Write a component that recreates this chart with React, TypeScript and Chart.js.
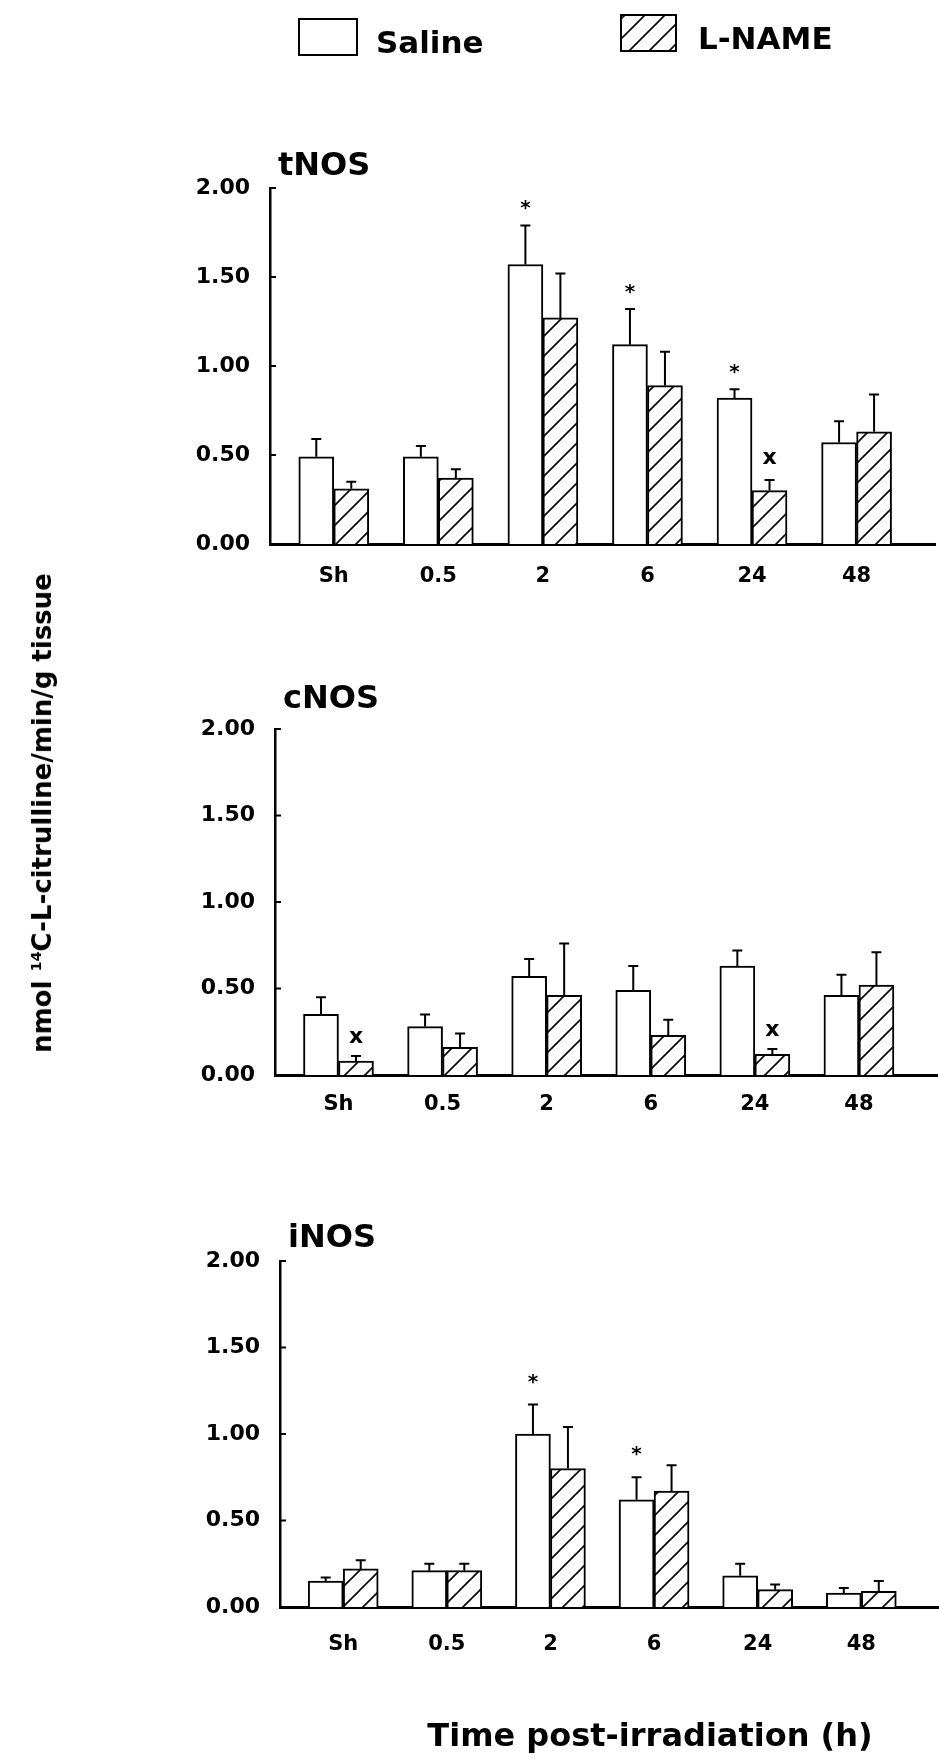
import React, { useEffect, useRef } from 'react';
import { Chart, registerables } from 'chart.js';

Chart.register(...registerables);

// ---------- data ----------
const timeLabels = ['Sh', '0.5', '2', '6', '24', '48'];
const seriesNames = ['Saline', 'L-NAME'];
const yTickStep = 0.5;
const yMax = 2;

const tNOSSaline = [0.49, 0.49, 1.57, 1.12, 0.82, 0.57];
const tNOSSalineErr = [0.1, 0.06, 0.22, 0.2, 0.05, 0.12];
const tNOSLname = [0.31, 0.37, 1.27, 0.89, 0.3, 0.63];
const tNOSLnameErr = [0.04, 0.05, 0.25, 0.19, 0.06, 0.21];
const tNOSSalineMarks = ['', '', '*', '*', '*', ''];
const tNOSLnameMarks = ['', '', '', '', 'x', ''];

const cNOSSaline = [0.35, 0.28, 0.57, 0.49, 0.63, 0.46];
const cNOSSalineErr = [0.1, 0.07, 0.1, 0.14, 0.09, 0.12];
const cNOSLname = [0.08, 0.16, 0.46, 0.23, 0.12, 0.52];
const cNOSLnameErr = [0.03, 0.08, 0.3, 0.09, 0.03, 0.19];
const cNOSSalineMarks = ['', '', '', '', '', ''];
const cNOSLnameMarks = ['x', '', '', '', 'x', ''];

const iNOSSaline = [0.15, 0.21, 1.0, 0.62, 0.18, 0.08];
const iNOSSalineErr = [0.02, 0.04, 0.17, 0.13, 0.07, 0.03];
const iNOSLname = [0.22, 0.21, 0.8, 0.67, 0.1, 0.09];
const iNOSLnameErr = [0.05, 0.04, 0.24, 0.15, 0.03, 0.06];
const iNOSSalineMarks = ['', '', '*', '*', '', ''];
const iNOSLnameMarks = ['', '', '', '', '', ''];

const FONT = '"DejaVu Sans", "Liberation Sans", sans-serif';

function makeHatch(ctx: CanvasRenderingContext2D): CanvasPattern | string {
  const s = 20;
  const c = document.createElement('canvas');
  c.width = s;
  c.height = s;
  const g = c.getContext('2d')!;
  g.fillStyle = '#fff';
  g.fillRect(0, 0, s, s);
  g.strokeStyle = '#000';
  g.lineWidth = 1.6;
  g.beginPath();
  g.moveTo(0, s);
  g.lineTo(s, 0);
  g.moveTo(-3, 3);
  g.lineTo(3, -3);
  g.moveTo(s - 3, s + 3);
  g.lineTo(s + 3, s - 3);
  g.stroke();
  return ctx.createPattern(c, 'repeat') || '#fff';
}

const decorPlugin = {
  id: 'panelDecor',
  afterDatasetsDraw(chart: any, _args: any, opts: any) {
    const { ctx, chartArea } = chart;
    const y = chart.scales.y;
    ctx.save();
    ctx.strokeStyle = '#000';
    ctx.fillStyle = '#000';
    // small inward tick marks on the value axis
    ctx.lineWidth = 2;
    y.ticks.forEach((t: any) => {
      const py = y.getPixelForValue(t.value);
      ctx.beginPath();
      ctx.moveTo(chartArea.left, py);
      ctx.lineTo(chartArea.left + 6, py);
      ctx.stroke();
    });
    chart.data.datasets.forEach((ds: any, di: number) => {
      const meta = chart.getDatasetMeta(di);
      meta.data.forEach((bar: any, i: number) => {
        const v = ds.data[i].y;
        const e = ds.errors[i];
        const yTop = y.getPixelForValue(v);
        const yErr = y.getPixelForValue(v + e);
        const x = bar.x;
        ctx.lineWidth = 2;
        ctx.beginPath();
        ctx.moveTo(x, yTop);
        ctx.lineTo(x, yErr);
        ctx.moveTo(x - 5, yErr);
        ctx.lineTo(x + 5, yErr);
        ctx.stroke();
        const m = ds.marks[i];
        if (m) {
          const target = yErr - opts.markGap;
          ctx.textAlign = 'center';
          ctx.textBaseline = 'alphabetic';
          if (m === '*') {
            ctx.font = `bold 20px ${FONT}`;
            ctx.fillText(m, x, target + 11);
          } else {
            ctx.font = `bold 22px ${FONT}`;
            ctx.fillText(m, x, target + 6);
          }
        }
      });
    });
    // panel title
    ctx.font = `bold 32px ${FONT}`;
    ctx.textAlign = 'left';
    ctx.textBaseline = 'alphabetic';
    ctx.fillText(opts.title, chartArea.left + 8, chartArea.top - opts.titleOffset);

    if (opts.legend) {
      const ds = chart.data.datasets;
      ctx.lineWidth = 2;
      ctx.font = `bold 31px ${FONT}`;
      // Saline
      ctx.fillStyle = ds[0].backgroundColor;
      ctx.fillRect(299, 19, 58, 36);
      ctx.strokeRect(299, 19, 58, 36);
      ctx.fillStyle = '#000';
      ctx.fillText(ds[0].label, 376, 53);
      // L-NAME
      ctx.fillStyle = ds[1].backgroundColor;
      ctx.fillRect(621, 15, 55, 36);
      ctx.strokeRect(621, 15, 55, 36);
      ctx.fillStyle = '#000';
      ctx.fillText(ds[1].label, 698, 49);
    }
    ctx.restore();
  },
};

type PanelProps = {
  title: string;
  saline: number[];
  salineErr: number[];
  salineMarks: string[];
  lname: number[];
  lnameErr: number[];
  lnameMarks: string[];
  top: number;
  height: number;
  padTop: number;
  xHeight: number;
  yWidth: number;
  padRight: number;
  xTickPad: number;
  titleOffset: number;
  markGap: number;
  legend?: boolean;
};

function Panel(p: PanelProps) {
  const ref = useRef<HTMLCanvasElement | null>(null);
  useEffect(() => {
    const canvas = ref.current!;
    const ctx = canvas.getContext('2d')!;
    const hatch = makeHatch(ctx);
    const chart = new Chart(ctx, {
      type: 'bar',
      data: {
        datasets: [
          {
            label: seriesNames[0],
            data: p.saline.map((v, i) => ({ x: i, y: v })),
            backgroundColor: '#ffffff',
            borderColor: '#000000',
            borderWidth: 2,
            barThickness: 35,
            errors: p.salineErr,
            marks: p.salineMarks,
          } as any,
          {
            label: seriesNames[1],
            data: p.lname.map((v, i) => ({ x: i, y: v })),
            backgroundColor: hatch,
            borderColor: '#000000',
            borderWidth: 2,
            barThickness: 35,
            errors: p.lnameErr,
            marks: p.lnameMarks,
          } as any,
        ],
      },
      options: {
        responsive: false,
        animation: false,
        devicePixelRatio: 1,
        layout: { padding: { top: p.padTop, right: p.padRight, bottom: 0, left: 0 } },
        plugins: {
          legend: { display: false },
          tooltip: { enabled: false },
          panelDecor: {
            title: p.title,
            legend: !!p.legend,
            titleOffset: p.titleOffset,
            markGap: p.markGap,
          },
        } as any,
        scales: {
          x: {
            type: 'linear',
            min: -0.61,
            max: 5.75,
            offset: false,
            grid: { display: false },
            border: { display: true, color: '#000', width: 3 },
            afterBuildTicks: (s: any) => {
              s.ticks = timeLabels.map((_, i) => ({ value: i }));
            },
            afterFit: (s: any) => {
              s.height = p.xHeight;
            },
            ticks: {
              autoSkip: false,
              maxRotation: 0,
              padding: p.xTickPad,
              color: '#000',
              font: { family: FONT, size: 21, weight: 'bold' },
              callback: (_v: any, i: number) => timeLabels[i],
            },
          },
          y: {
            type: 'linear',
            min: 0,
            max: yMax,
            grid: { display: false },
            border: { display: true, color: '#000', width: 2.5 },
            afterFit: (s: any) => {
              s.width = p.yWidth;
            },
            ticks: {
              stepSize: yTickStep,
              padding: 12,
              color: '#000',
              font: { family: FONT, size: 22, weight: 'bold' },
              callback: (v: any) => Number(v).toFixed(2),
            },
          },
        } as any,
      },
      plugins: [decorPlugin],
    });
    return () => chart.destroy();
  }, []);
  return (
    <canvas
      ref={ref}
      width={939}
      height={p.height}
      style={{ position: 'absolute', left: 0, top: p.top, width: 939, height: p.height }}
    />
  );
}

export default function App() {
  return (
    <div
      style={{
        position: 'absolute',
        left: 0,
        top: 0,
        width: 939,
        height: 1763,
        background: '#fff',
        overflow: 'hidden',
        fontFamily: FONT,
      }}
    >
      <Panel
        title="tNOS"
        saline={tNOSSaline}
        salineErr={tNOSSalineErr}
        salineMarks={tNOSSalineMarks}
        lname={tNOSLname}
        lnameErr={tNOSLnameErr}
        lnameMarks={tNOSLnameMarks}
        top={0}
        height={600}
        padTop={188}
        xHeight={56}
        yWidth={270}
        padRight={4}
        xTickPad={12}
        titleOffset={13}
        markGap={22}
        legend
      />
      <Panel
        title="cNOS"
        saline={cNOSSaline}
        salineErr={cNOSSalineErr}
        salineMarks={cNOSSalineMarks}
        lname={cNOSLname}
        lnameErr={cNOSLnameErr}
        lnameMarks={cNOSLnameMarks}
        top={600}
        height={530}
        padTop={129}
        xHeight={55}
        yWidth={275}
        padRight={2}
        xTickPad={9}
        titleOffset={21}
        markGap={19}
      />
      <Panel
        title="iNOS"
        saline={iNOSSaline}
        salineErr={iNOSSalineErr}
        salineMarks={iNOSSalineMarks}
        lname={iNOSLname}
        lnameErr={iNOSLnameErr}
        lnameMarks={iNOSLnameMarks}
        top={1130}
        height={633}
        padTop={131}
        xHeight={156}
        yWidth={280}
        padRight={0}
        xTickPad={17}
        titleOffset={14}
        markGap={28}
      />
      <div
        style={{
          position: 'absolute',
          left: 42,
          top: 813,
          transform: 'translate(-50%, -50%) rotate(-90deg)',
          whiteSpace: 'nowrap',
          fontWeight: 'bold',
          fontSize: 26,
          color: '#000',
        }}
      >
        nmol <sup style={{ fontSize: '0.55em', verticalAlign: '0.7em' }}>14</sup>C-L-citrulline/min/g tissue
      </div>
      <div
        style={{
          position: 'absolute',
          left: 650,
          top: 1719,
          transform: 'translateX(-50%)',
          whiteSpace: 'nowrap',
          fontWeight: 'bold',
          fontSize: 32,
          lineHeight: '32px',
          color: '#000',
        }}
      >
        Time post-irradiation (h)
      </div>
    </div>
  );
}
